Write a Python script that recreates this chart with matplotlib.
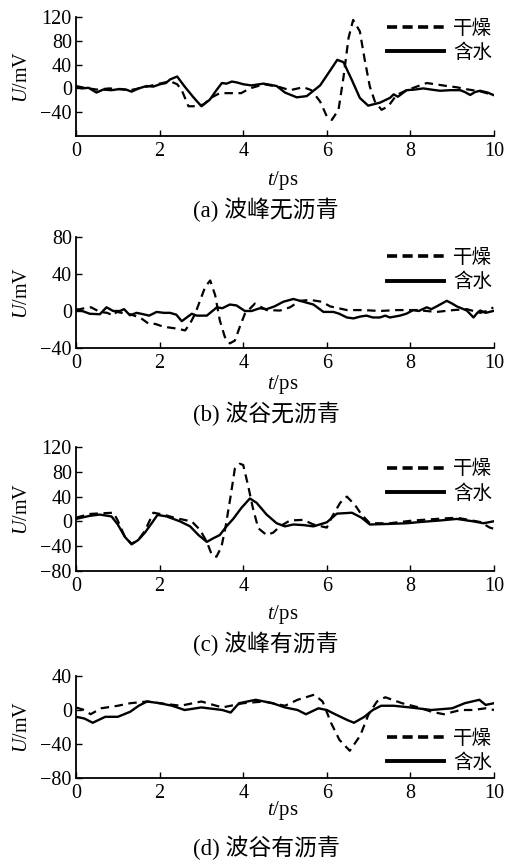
import matplotlib
matplotlib.use("Agg")
import matplotlib.pyplot as plt

plt.rcParams['font.family'] = ['Liberation Serif', 'Noto Sans CJK SC']
plt.rcParams['mathtext.fontset'] = 'custom'
plt.rcParams['mathtext.it'] = 'Liberation Serif:italic'
plt.rcParams['mathtext.rm'] = 'Liberation Serif'

# ---------------- data ----------------
# (a) 波峰无沥青
a_dry_t = [0, 0.2, 0.5, 0.8, 1.0, 1.3, 1.7, 2.0, 2.25, 2.42, 2.53, 2.69, 2.85, 3.05, 3.25, 3.44, 3.7,
           3.95, 4.16, 4.5, 4.88, 5.12, 5.44, 5.63, 5.84, 6.0, 6.12, 6.28, 6.4, 6.52, 6.63, 6.79, 6.91,
           7.03, 7.15, 7.31, 7.47, 7.67, 7.91, 8.15, 8.39, 8.6, 8.87, 9.1, 9.35, 9.67, 9.98]
a_dry_u = [4, 1, -2, 0, -1, -3, 3, 8, 12, 7, -3, -30, -30, -27, -15, -8, -8,
           -8, 0, 7, 2, -3, 2, -3, -22, -47, -53, -36, 19, 85, 115, 96, 47,
           3, -22, -36, -30, -11, -3, 3, 9, 7, 4, 2, -1.5, -5, -11]
a_wet_t = [0, 0.15, 0.3, 0.49, 0.65, 0.85, 1.05, 1.2, 1.33, 1.5, 1.69, 1.85, 2.01, 2.15, 2.25, 2.42,
           2.6, 2.81, 3.0, 3.2, 3.36, 3.49, 3.6, 3.73, 3.85, 4.0, 4.2, 4.48, 4.65, 4.8, 5.0, 5.28, 5.52,
           5.84, 6.08, 6.25, 6.4, 6.6, 6.79, 6.99, 7.27, 7.51, 7.6, 7.7, 7.91, 8.1, 8.31, 8.5, 8.71,
           8.95, 9.19, 9.3, 9.43, 9.55, 9.67, 9.85, 9.98]
a_wet_u = [2, 0, 1, -7, -2, -3, -1, -2, -5.5, 0, 4, 3, 7, 9, 15, 20,
           3, -15, -30, -19, -3, 9, 8, 11.5, 10, 7, 5, 8, 6, 4, -7, -15, -13,
           5, 30, 48, 44, 14, -16, -29, -24, -16, -10, -14, -3, -2, 0, -2, -4,
           -3, -3, -6, -11, -6, -4, -7, -11]

# (b) 波谷无沥青
b_dry_t = [0, 0.2, 0.36, 0.57, 0.75, 0.89, 0.97, 1.1, 1.29, 1.53, 1.73, 1.9, 2.09, 2.41, 2.61, 2.73,
           2.85, 2.97, 3.09, 3.21, 3.33, 3.44, 3.56, 3.68, 3.8, 3.92, 4.04, 4.28, 4.56, 4.88, 5.12,
           5.36, 5.6, 5.88, 6.08, 6.48, 6.88, 7.27, 7.67, 8.15, 8.63, 9.03, 9.35, 9.67, 9.9, 9.98]
b_dry_u = [1, 3, 4, -1, -2, -5, -1, -2, -3.5, -7, -13.5, -14, -17, -19, -21, -13.5,
           -3, 11.5, 26, 33, 17, -10, -28, -35, -32, -17, -3, 8, 1, 0.5, 4,
           11, 12, 10, 5, 1, 1, 0, 1, 1, -1, 1, 2, -2, 1, 4]
b_wet_t = [0, 0.15, 0.33, 0.57, 0.73, 0.89, 1.05, 1.15, 1.29, 1.45, 1.61, 1.75, 1.93, 2.1, 2.25, 2.4,
           2.53, 2.65, 2.77, 2.89, 3.13, 3.37, 3.5, 3.68, 3.84, 4.04, 4.2, 4.4, 4.56, 4.75, 4.96,
           5.2, 5.44, 5.68, 5.92, 6.16, 6.3, 6.48, 6.64, 6.8, 6.95, 7.1, 7.27, 7.4, 7.51, 7.75,
           7.9, 8.07, 8.2, 8.39, 8.5, 8.63, 8.87, 9.0, 9.11, 9.35, 9.51, 9.6, 9.67, 9.8, 9.98]
b_wet_u = [2, 0, -3, -3.5, 4, 0, 0, 2, -4.6, -2, -3.5, -5, -1, -2, -2, -4,
           -11, -7, -3, -5, -5, 4, 3, 7, 6, 0, 0, 3, 2, 5, 10,
           13, 10, 7, -1, -1, -3, -7, -8, -6, -5, -7, -7, -5, -7, -5,
           -3, 1, 0, 4, 2, 5, 11, 8, 5, 0.5, -7, -2, 0.5, -2, 0]

# (c) 波峰有沥青
c_dry_t = [0, 0.33, 0.6, 0.9, 1.0, 1.17, 1.33, 1.49, 1.65, 1.85, 2.09, 2.4, 2.77, 2.97, 3.13, 3.25,
           3.36, 3.48, 3.58, 3.7, 3.8, 3.92, 4.0, 4.12, 4.23, 4.36, 4.56, 4.72, 4.88, 5.12, 5.44,
           5.68, 6.0, 6.12, 6.32, 6.48, 6.68, 6.83, 7.03, 7.51, 8.07, 8.63, 9.11, 9.67, 9.9, 10.0]
c_dry_u = [6, 12, 13, 14, 1, -25, -36, -30, -15, 14, 11, 5, 0, -14, -33, -54,
           -57, -41, -8, 41, 85, 93, 91, 57, 22, -11, -22, -18, -8, 1.5, 2.5,
           -5, -10, 7, 30, 40, 26, 11, -3, -3, 1.5, 4, 6, -1, -10, -12]
c_wet_t = [0, 0.33, 0.57, 0.85, 1.0, 1.17, 1.33, 1.49, 1.65, 1.81, 1.95, 2.17, 2.49, 2.73, 2.93,
           3.13, 3.29, 3.44, 3.6, 3.76, 3.96, 4.16, 4.32, 4.56, 4.8, 5.0, 5.2, 5.45, 5.68, 6.0,
           6.24, 6.6, 6.83, 7.03, 7.51, 7.91, 8.23, 8.71, 9.11, 9.51, 9.75, 9.98]
c_wet_u = [4, 9, 11, 8, -5, -25, -37, -30, -18, -3, 10.5, 8, 0, -8, -22,
           -33, -27, -22, -8, 4, 22, 37, 30, 11, -3, -8, -5, -6, -8, -1.5,
           12.5, 14, 6, -5, -4, -3, -1, 1.5, 4, 0, -3, 0]

# (d) 波谷有沥青
d_dry_t = [0, 0.2, 0.35, 0.6, 1.0, 1.3, 1.7, 2.0, 2.5, 3.0, 3.5, 4.0, 4.5, 5.0, 5.3, 5.7, 5.9,
           6.1, 6.3, 6.55, 6.8, 7.0, 7.2, 7.4, 7.8, 8.2, 8.5, 8.8, 9.2, 9.5, 9.8, 10.0]
d_dry_u = [3, 0, -5, 2, 5, 8, 10, 8, 5, 10, 3, 8, 10, 5, 12, 18, 10,
           -15, -35, -48, -30, -5, 10, 15, 8, 3, -2, -5, 0, 0, 2, 0]
d_wet_t = [0, 0.2, 0.4, 0.7, 1.0, 1.3, 1.5, 1.7, 2.0, 2.3, 2.6, 3.0, 3.5, 3.7, 3.9, 4.3, 4.7,
           5.0, 5.3, 5.5, 5.8, 6.0, 6.2, 6.5, 6.65, 6.9, 7.1, 7.3, 7.6, 8.0, 8.5, 9.0, 9.3,
           9.65, 9.8, 10.0]
d_wet_u = [-8, -10, -15, -8, -8, -2, 5, 10, 8, 5, 0, 3, 0, -3, 8, 12, 8,
           3, 0, -5, 2, 0, -5, -12, -15, -8, 0, 5, 5, 3, 0, 2, 8,
           12, 6, 8]

panels = [
    dict(dry=(a_dry_t, a_dry_u), wet=(a_wet_t, a_wet_u), ylim=(-80, 120), yticks=[-40, 0, 40, 80, 120],
         caption="(a) 波峰无沥青"),
    dict(dry=(b_dry_t, b_dry_u), wet=(b_wet_t, b_wet_u), ylim=(-40, 80), yticks=[-40, 0, 40, 80],
         caption="(b) 波谷无沥青"),
    dict(dry=(c_dry_t, c_dry_u), wet=(c_wet_t, c_wet_u), ylim=(-80, 120), yticks=[-80, -40, 0, 40, 80, 120],
         caption="(c) 波峰有沥青"),
    dict(dry=(d_dry_t, d_dry_u), wet=(d_wet_t, d_wet_u), ylim=(-80, 40), yticks=[-80, -40, 0, 40],
         caption="(d) 波谷有沥青"),
]
legend_labels = ["干燥", "含水"]
xticks = [0, 2, 4, 6, 8, 10]

# ---------------- layout (pixels) ----------------
W, H = 512, 866
left_px, right_px = 76, 494
boxes = [(17, 136), (237, 348), (447, 571), (676, 778)]   # top, bottom of axes
xlabel_y = [180, 385, 614, 811]
caption_y = [210, 414, 644, 848]
leg_loc = ['upper right', 'upper right', 'upper right', 'lower right']
leg_anchor = [(0.995, 0.98), (0.995, 0.895), (0.995, 0.895), (0.995, 0.06)]

fig = plt.figure(figsize=(W / 100, H / 100), dpi=100)
fig.patch.set_facecolor('white')

for i, p in enumerate(panels):
    top, bot = boxes[i]
    ax = fig.add_axes([left_px / W, 1 - bot / H, (right_px - left_px) / W, (bot - top) / H])
    ax.plot(*p['dry'], color='black', lw=1.6, ls=(0, (3.8, 2.5)), label=legend_labels[0])
    ax.plot(*p['wet'], color='black', lw=1.7, ls='-', label=legend_labels[1])
    ax.set_xlim(0, 10)
    ax.set_ylim(*p['ylim'])
    ax.set_xticks(xticks)
    ax.set_yticks(p['yticks'])
    ax.spines['top'].set_visible(False)
    ax.spines['right'].set_visible(False)
    ax.spines['left'].set_linewidth(1.3)
    ax.spines['bottom'].set_linewidth(1.3)
    ax.tick_params(direction='in', length=4, width=1.0, labelsize=14.5)
    ax.tick_params(axis='x', pad=4)
    ax.tick_params(axis='y', pad=3)
    ax.set_ylabel("$U$/mV", fontsize=14.5)
    ax.yaxis.set_label_coords(-0.105, 0.5)
    leg = ax.legend(loc=leg_loc[i], bbox_to_anchor=leg_anchor[i], frameon=False, fontsize=14,
                    handlelength=2.95, handletextpad=0.45, labelspacing=0.3, borderaxespad=0,
                    borderpad=0)
    lines = leg.get_lines()
    lines[0].set_linewidth(2.6)
    lines[0].set_linestyle((0, (2.8, 1.5)))
    lines[1].set_linewidth(2.8)
    fig.text(283 / W, 1 - xlabel_y[i] / H, "$t$/ps", ha='center', va='center', fontsize=15)
    fig.text(266 / W, 1 - caption_y[i] / H, p['caption'], ha='center', va='center', fontsize=16.5)

fig.savefig("out.png", dpi=100, facecolor='white')
